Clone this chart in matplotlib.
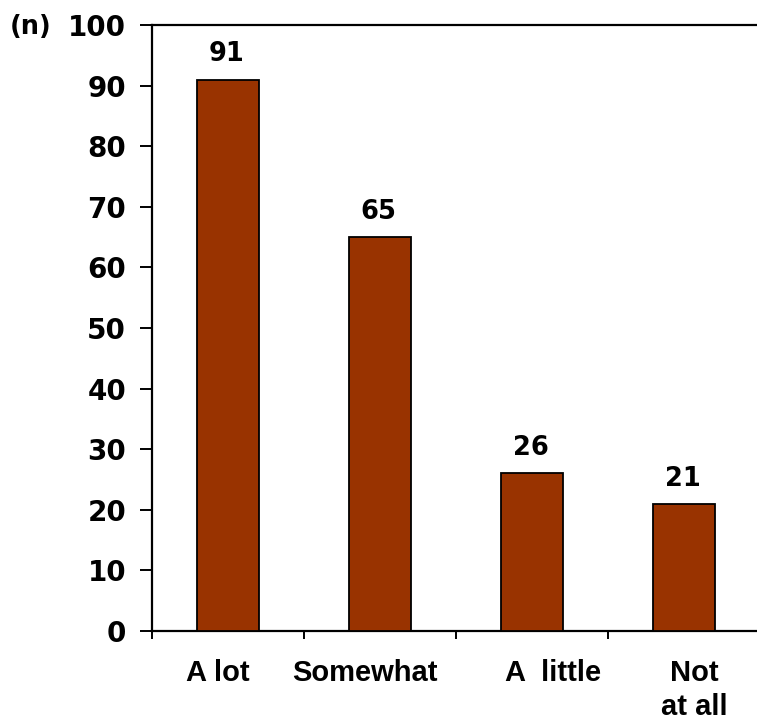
import matplotlib
matplotlib.use("Agg")
import matplotlib.pyplot as plt
import numpy as np

categories = ["A lot", "Somewhat", "A  little", "Not\nat all"]
counts = [91, 65, 26, 21]
y_ticks = [0, 10, 20, 30, 40, 50, 60, 70, 80, 90, 100]

bar_color = "#993300"
label_shift = [-0.07, -0.10, 0.14, 0.07]  # nudge category captions sideways

fig = plt.figure(figsize=(7.57, 7.22), dpi=100)
ax = fig.add_axes([152 / 757, 91 / 722, 608 / 757, 606 / 722])

x = np.arange(len(categories)) + 0.5
ax.bar(x, counts, width=0.41, color=bar_color, edgecolor="black", linewidth=1.3, zorder=3)

for xi, v in zip(x, counts):
    ax.annotate(f"{v}", (xi, v), xytext=(-1, 13), textcoords="offset points",
                ha="center", va="baseline", fontsize=18.5, fontweight="bold",
                family="DejaVu Sans")

ax.set_xlim(0, len(categories))
ax.set_ylim(0, 100)

ax.set_yticks(y_ticks)
ax.set_yticklabels([str(t) for t in y_ticks], fontsize=20, fontweight="bold",
                   family="DejaVu Sans")
ax.tick_params(axis="y", direction="out", length=8.6, width=1.4, pad=10)

# boundary ticks between categories, captions on separate ticks
ax.set_xticks(np.arange(len(categories) + 1), minor=True)
ax.set_xticks(x + np.array(label_shift))
ax.set_xticklabels(categories, fontsize=21, fontweight="bold",
                   family="Liberation Sans", linespacing=1.3)
ax.tick_params(axis="x", which="major", length=0, pad=20)
ax.tick_params(axis="x", which="minor", direction="out", length=6, width=1.4)

for side in ("left", "top", "bottom"):
    ax.spines[side].set_linewidth(1.6)
ax.spines["right"].set_visible(False)

fig.text(10 / 757, 1 - 27 / 722, "(n)", fontsize=18.5, fontweight="bold",
         family="DejaVu Sans", ha="left", va="center")

fig.savefig("out.png", dpi=100)
